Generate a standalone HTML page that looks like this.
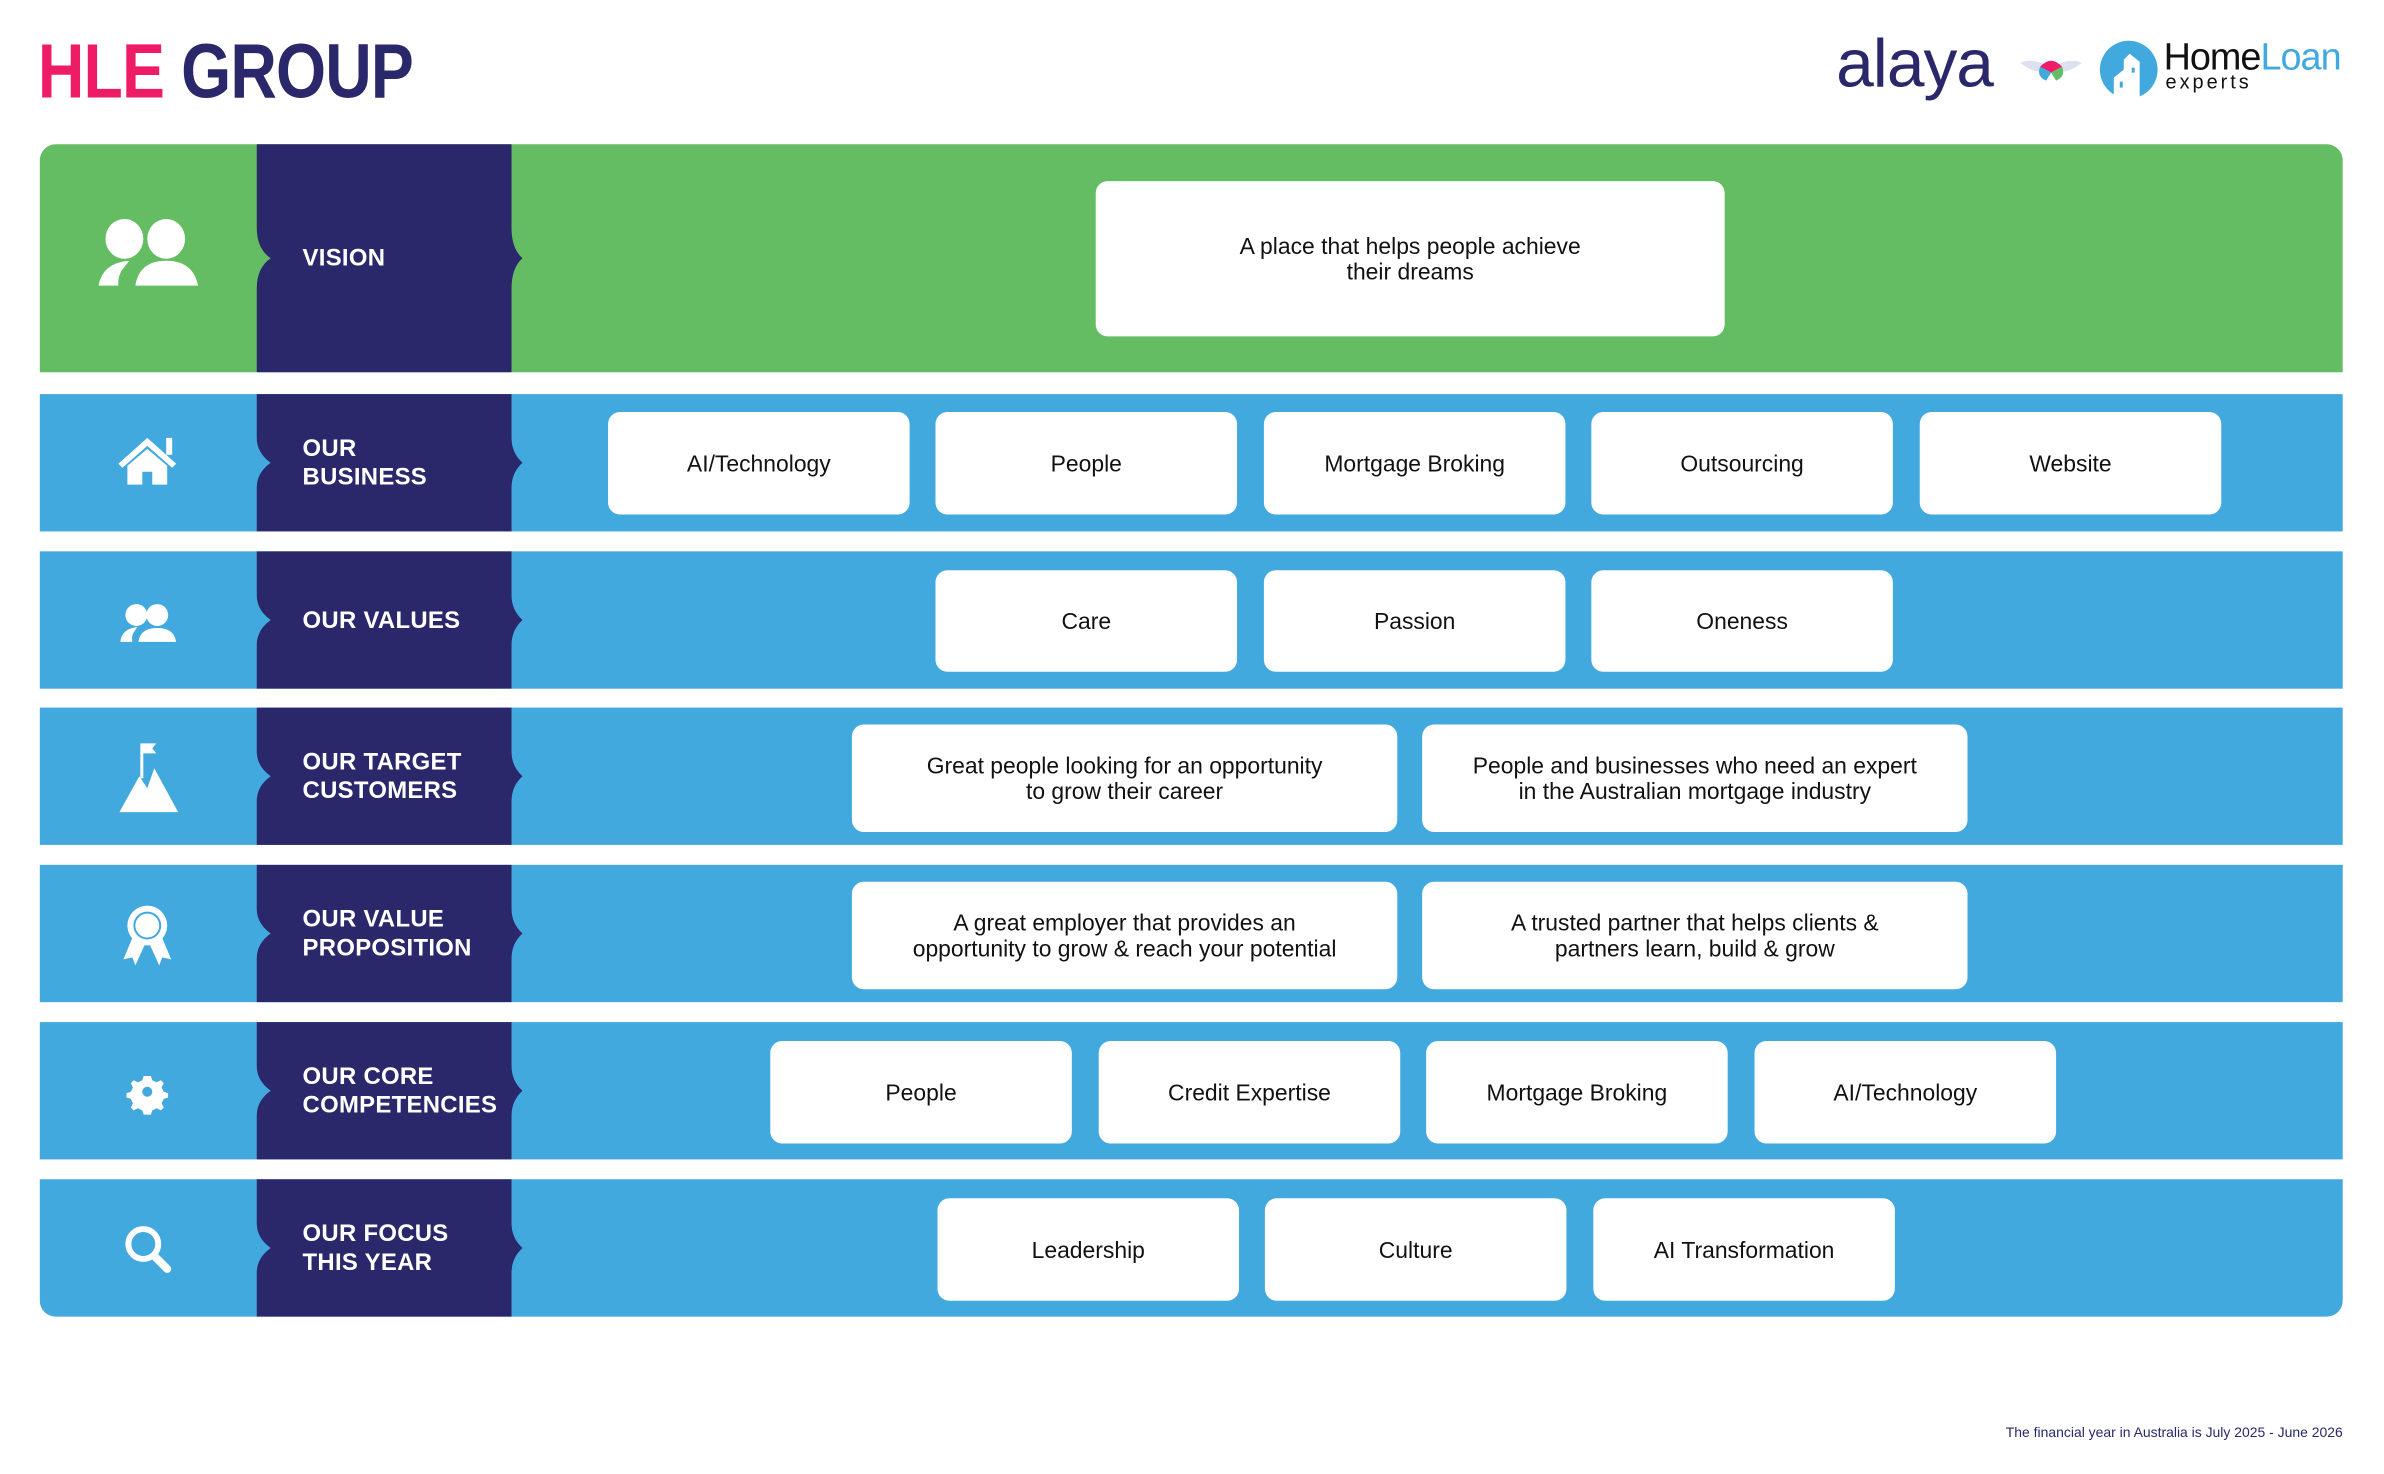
<!DOCTYPE html>
<html><head><meta charset="utf-8">
<style>
*{margin:0;padding:0;box-sizing:border-box}
body{width:2384px;height:1474px;background:#fff;position:relative;overflow:hidden;font-family:"Liberation Sans",sans-serif}
#w{position:absolute;left:0;top:0;width:2384px;height:1474px;transform:scale(0.9952);transform-origin:0 0}
.abs{position:absolute}
.row{position:absolute;left:40px;width:2314px;background:#42A9DF}
.card{position:absolute;background:#fff;border-radius:12px;display:flex;align-items:center;justify-content:center;text-align:center;color:#111;font-size:23px;line-height:26px}
.lbl{position:absolute;left:304px;color:#fff;font-weight:bold;font-size:24px;line-height:29px;letter-spacing:0.3px;display:flex;align-items:center}
</style></head><body><div id="w">

<div class="abs" style="left:38px;top:32px;font-size:77px;font-weight:bold;line-height:80px;letter-spacing:-1px;transform:scaleX(0.84);transform-origin:0 0;white-space:nowrap"><span style="color:#EE1B66">HLE</span> <span style="color:#2A276A">GROUP</span></div>

<div class="abs" style="left:1845px;top:24px;font-size:68px;color:#2A276A;line-height:80px;letter-spacing:-1px">alaya</div>
<svg class="abs" style="left:2030px;top:55px" width="62" height="30" viewBox="0 0 62 30">
<path d="M0 8 Q15 2 31 14 Q17 22 0 8Z" fill="#dde0ee"/><path d="M62 8 Q47 2 31 14 Q45 22 62 8Z" fill="#dde0ee"/>
<path d="M20 12 Q31 0 42 12 L31 18Z" fill="#EE1B66"/><path d="M20 12 L31 18 L26 26 Q16 22 20 12Z" fill="#42A9DF"/><path d="M42 12 L31 18 L36 26 Q46 22 42 12Z" fill="#64BD63"/></svg>
<svg class="abs" style="left:2108px;top:40px" width="62" height="60" viewBox="0 0 62 60"><circle cx="31" cy="30" r="29" fill="#42A9DF"/><path d="M16 60 V38 L26 30 V20 L32 14 L42 22 V60Z" fill="#fff"/><rect x="22" y="42" width="3" height="6" fill="#42A9DF"/><rect x="34" y="28" width="3" height="5" fill="#42A9DF"/></svg>
<div class="abs" style="left:2174px;top:38px;font-size:38px;line-height:40px;letter-spacing:-1px"><span style="color:#111">Home</span><span style="color:#42A9DF">Loan</span></div>
<div class="abs" style="left:2176px;top:72px;font-size:20px;line-height:22px;letter-spacing:3px;color:#111">experts</div>

<div class="row" style="top:145px;height:229px;background:#64BD63;border-radius:16px 16px 0 0"></div>
<div class="row" style="top:396px;height:138px"></div>
<div class="row" style="top:554px;height:138px"></div>
<div class="row" style="top:711px;height:138px"></div>
<div class="row" style="top:869px;height:138px"></div>
<div class="row" style="top:1027px;height:138px"></div>
<div class="row" style="top:1185px;height:138px;border-radius:0 0 16px 16px"></div>

<svg class="abs" style="left:0;top:0" width="2384" height="1474">
<g fill="#2A276A">
<path d="M258 145 H514 V229 Q514 250 525 259.5 Q514 269 514 290 V374 H258 V290 Q258 269 272 259.5 Q258 250 258 229Z"/>
<path d="M258 396 H514 V440 Q514 455 525 465 Q514 475 514 490 V534 H258 V490 Q258 475 272 465 Q258 455 258 440Z"/>
<path d="M258 554 H514 V598 Q514 613 525 623 Q514 633 514 648 V692 H258 V648 Q258 633 272 623 Q258 613 258 598Z"/>
<path d="M258 711 H514 V755 Q514 770 525 780 Q514 790 514 805 V849 H258 V805 Q258 790 272 780 Q258 770 258 755Z"/>
<path d="M258 869 H514 V913 Q514 928 525 938 Q514 948 514 963 V1007 H258 V963 Q258 948 272 938 Q258 928 258 913Z"/>
<path d="M258 1027 H514 V1071 Q514 1086 525 1096 Q514 1106 514 1121 V1165 H258 V1121 Q258 1106 272 1096 Q258 1086 258 1071Z"/>
<path d="M258 1185 H514 V1229 Q514 1244 525 1254 Q514 1264 514 1279 V1323 H258 V1279 Q258 1264 272 1254 Q258 1244 258 1229Z"/>
</g>
<g fill="#fff">
<ellipse cx="125" cy="240" rx="19" ry="20"/><ellipse cx="167" cy="240" rx="19" ry="20"/>
<path d="M99 287 Q103 264 130 262 L122 272 Q118 280 119 287Z"/><path d="M136 287 Q140 262 167 262 Q194 262 199 287Z"/>
<path d="M119 466 L148 440 L177 466 L173 470 L148 448 L123 470Z"/><rect x="167" y="440" width="6" height="17"/>
<path d="M128 468 L148 451 L168 468 V487 H153 V474 H143 V487 H128Z"/>
<circle cx="137" cy="618" r="11"/><circle cx="158" cy="618" r="11"/>
<path d="M121 645 Q122 632 138 630 L134 636 Q132 640 133 645Z"/><path d="M139 645 Q141 631 158 631 Q175 631 177 645Z"/>
<path d="M120 816 L140 780 L148 792 L155 772 L179 816Z"/><rect x="141" y="747" width="3" height="35"/><path d="M143 747 H157 L153 752 L157 757 H143Z"/>
<path d="M134 940 L124 964 L133 962 L136 970 L146 948Z"/><path d="M162 940 L172 964 L163 962 L160 970 L150 948Z"/>
<circle cx="148" cy="930" r="20"/><circle cx="148" cy="930" r="14" fill="#42A9DF"/><circle cx="148" cy="930" r="12"/>
<g transform="translate(148 1097) scale(0.72) translate(-148 -1097)">
<path d="M148 1075 l5 0 2 6 6 3 6-3 4 4-3 6 3 6 6 2 0 6-6 2-3 6 3 6-4 4-6-3-6 3-2 6-10 0-2-6-6-3-6 3-4-4 3-6-3-6-6-2 0-6 6-2 3-6-3-6 4-4 6 3 6-3 2-6Z"/>
<circle cx="148" cy="1097" r="7" fill="#42A9DF"/></g>
<circle cx="144" cy="1250" r="15" fill="none" stroke="#fff" stroke-width="6"/><path d="M155 1262 L168 1275" stroke="#fff" stroke-width="8" stroke-linecap="round"/>
</g>
</svg>

<div class="lbl" style="top:145px;height:229px">VISION</div>
<div class="lbl" style="top:396px;height:138px">OUR<br>BUSINESS</div>
<div class="lbl" style="top:554px;height:138px">OUR VALUES</div>
<div class="lbl" style="top:711px;height:138px">OUR TARGET<br>CUSTOMERS</div>
<div class="lbl" style="top:869px;height:138px">OUR VALUE<br>PROPOSITION</div>
<div class="lbl" style="top:1027px;height:138px">OUR CORE<br>COMPETENCIES</div>
<div class="lbl" style="top:1185px;height:138px">OUR FOCUS<br>THIS YEAR</div>

<div class="card" style="left:1101px;top:182px;width:632px;height:156px">A place that helps people achieve<br>their dreams</div>

<div class="card" style="left:611px;top:414px;width:303px;height:103px">AI/Technology</div>
<div class="card" style="left:940px;top:414px;width:303px;height:103px">People</div>
<div class="card" style="left:1270px;top:414px;width:303px;height:103px">Mortgage Broking</div>
<div class="card" style="left:1599px;top:414px;width:303px;height:103px">Outsourcing</div>
<div class="card" style="left:1929px;top:414px;width:303px;height:103px">Website</div>

<div class="card" style="left:940px;top:573px;width:303px;height:102px">Care</div>
<div class="card" style="left:1270px;top:573px;width:303px;height:102px">Passion</div>
<div class="card" style="left:1599px;top:573px;width:303px;height:102px">Oneness</div>

<div class="card" style="left:856px;top:728px;width:548px;height:108px">Great people looking for an opportunity<br>to grow their career</div>
<div class="card" style="left:1429px;top:728px;width:548px;height:108px">People and businesses who need an expert<br>in the Australian mortgage industry</div>

<div class="card" style="left:856px;top:886px;width:548px;height:108px">A great employer that provides an<br>opportunity to grow &amp; reach your potential</div>
<div class="card" style="left:1429px;top:886px;width:548px;height:108px">A trusted partner that helps clients &amp;<br>partners learn, build &amp; grow</div>

<div class="card" style="left:774px;top:1046px;width:303px;height:103px">People</div>
<div class="card" style="left:1104px;top:1046px;width:303px;height:103px">Credit Expertise</div>
<div class="card" style="left:1433px;top:1046px;width:303px;height:103px">Mortgage Broking</div>
<div class="card" style="left:1763px;top:1046px;width:303px;height:103px">AI/Technology</div>

<div class="card" style="left:942px;top:1204px;width:303px;height:103px">Leadership</div>
<div class="card" style="left:1271px;top:1204px;width:303px;height:103px">Culture</div>
<div class="card" style="left:1601px;top:1204px;width:303px;height:103px">AI Transformation</div>

<div class="abs" style="right:30px;top:1431px;font-size:14px;color:#2A276A;line-height:16px">The financial year in Australia is July 2025 - June 2026</div>
</div></body></html>
